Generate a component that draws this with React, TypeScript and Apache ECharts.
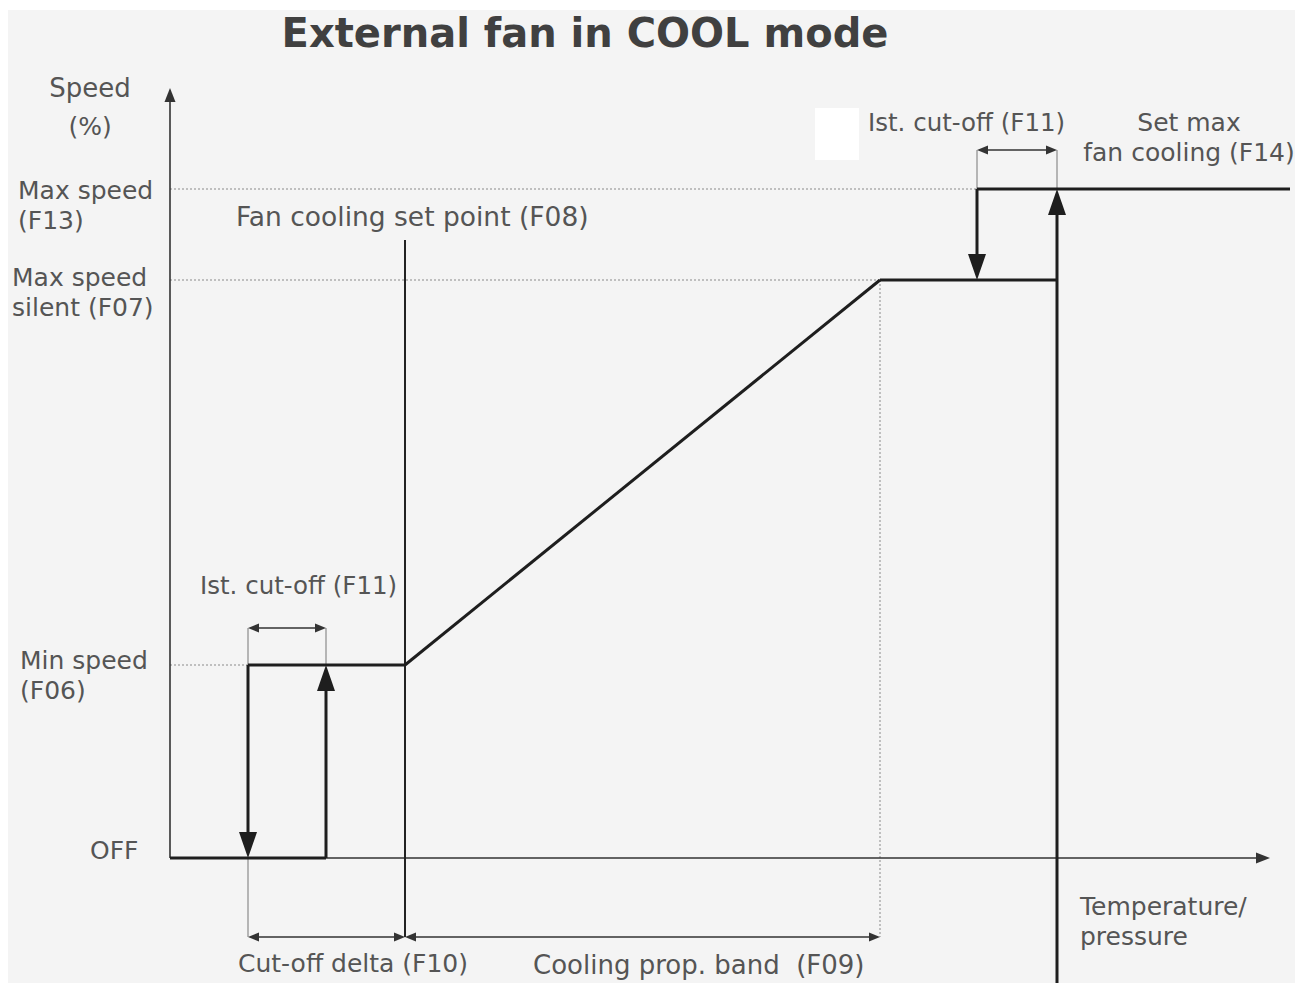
import React, { useEffect, useRef } from "react";
import * as echarts from "echarts";

// Temperature / pressure axis marks (schematic units from the origin)
const tempMarks = [0, 78, 156, 235, 710, 807, 887, 1120];
const tempMarkNames = ["origin", "cut-off low", "cut-off low end", "set point F08", "band end F09", "cut-off high", "set max F14", "end"];
// Speed levels (schematic units)
const speedLevels = [0, 193, 578, 669];
const speedLevelNames = ["OFF", "Min speed (F06)", "Max speed silent (F07)", "Max speed (F13)"];
// axis ranges
const tempRange = [0, 1120];
const speedRange = [-125, 770];
const axisEnds = [1100, 770]; // x-axis arrow tip, y-axis arrow tip
// dimension-line levels: bottom band, low cut-off, high cut-off; set-point line top
const dimLevels = [-79, 230, 708];
const setPointTop = 618;

const [t0, tCutLo, tCutLoEnd, tSet, tBand, tCutHi, tF14, tEnd] = tempMarks;
const [sOff, sMin, sSilent, sMax] = speedLevels;
const [dimBottom, dimLow, dimHigh] = dimLevels;

// segments: [x1, y1, x2, y2, headAtStart, headAtEnd]
const thickSegs = [
  [t0, sOff, tCutLoEnd, sOff, 0, 0],
  [tCutLoEnd, sOff, tCutLoEnd, sMin, 0, 1],
  [tCutLo, sMin, tSet, sMin, 0, 0],
  [tCutLo, sMin, tCutLo, sOff, 0, 1],
  [tSet, sMin, tBand, sSilent, 0, 0],
  [tBand, sSilent, tF14, sSilent, 0, 0],
  [tCutHi, sMax, tCutHi, sSilent, 0, 1],
  [tCutHi, sMax, tEnd, sMax, 0, 0],
  [tF14, speedRange[0], tF14, sMax, 0, 1],
];
const axisSegs = [
  [t0, sOff, axisEnds[0], sOff, 0, 1],
  [t0, sOff, t0, axisEnds[1], 0, 1],
];
const setPointSegs = [[tSet, dimBottom, tSet, setPointTop, 0, 0]];
const dimSegs = [
  [tCutLo, dimLow, tCutLoEnd, dimLow, 1, 1],
  [tCutHi, dimHigh, tF14, dimHigh, 1, 1],
  [tCutLo, dimBottom, tSet, dimBottom, 1, 1],
  [tSet, dimBottom, tBand, dimBottom, 1, 1],
];
const extSegs = [
  [tCutLo, sMin, tCutLo, dimLow, 0, 0],
  [tCutLoEnd, sMin, tCutLoEnd, dimLow, 0, 0],
  [tCutHi, sMax, tCutHi, dimHigh, 0, 0],
  [tF14, sMax, tF14, dimHigh, 0, 0],
  [tCutLo, sOff, tCutLo, dimBottom, 0, 0],
];
const dottedSegs = [
  [t0, sMax, tCutHi, sMax, 0, 0],
  [t0, sSilent, tBand, sSilent, 0, 0],
  [t0, sMin, tCutLo, sMin, 0, 0],
  [tBand, sSilent, tBand, dimBottom, 0, 0],
];

function segSeries(name: string, data: number[][], stroke: string, width: number, headLen: number, headW: number, dash?: number[]) {
  return {
    type: "custom",
    name,
    data,
    encode: { x: [0, 2], y: [1, 3] },
    clip: false,
    silent: true,
    renderItem: (params: any, api: any) => {
      const a = api.coord([api.value(0), api.value(1)]);
      const b = api.coord([api.value(2), api.value(3)]);
      const hs = api.value(4);
      const he = api.value(5);
      const dx = b[0] - a[0];
      const dy = b[1] - a[1];
      const len = Math.sqrt(dx * dx + dy * dy) || 1;
      const ux = dx / len;
      const uy = dy / len;
      const children: any[] = [];
      let s = a.slice();
      let e = b.slice();
      const head = (tip: number[], dirx: number, diry: number) => {
        const bx = tip[0] - dirx * headLen;
        const by = tip[1] - diry * headLen;
        const px = -diry * headW / 2;
        const py = dirx * headW / 2;
        children.push({
          type: "polygon",
          shape: { points: [tip, [bx + px, by + py], [bx - px, by - py]] },
          style: { fill: stroke },
        });
      };
      if (he) {
        head(b, ux, uy);
        e = [b[0] - ux * headLen * 0.8, b[1] - uy * headLen * 0.8];
      }
      if (hs) {
        head(a, -ux, -uy);
        s = [a[0] + ux * headLen * 0.8, a[1] + uy * headLen * 0.8];
      }
      children.unshift({
        type: "line",
        shape: { x1: s[0], y1: s[1], x2: e[0], y2: e[1] },
        style: { stroke, lineWidth: width, lineDash: dash || null },
      });
      return { type: "group", children };
    },
  };
}

const labelColor = "#555";
const font = "DejaVu Sans";

function txt(text: string, x: number, y: number, align = "left", size = 25, lineHeight?: number) {
  return {
    type: "text",
    x,
    y,
    z: 100,
    style: {
      text, fill: labelColor, font: `${size}px "${font}"`, textAlign: align, textVerticalAlign: "middle",
      lineHeight: lineHeight || Math.round(size * 1.2),
    },
  };
}

export default function App() {
  const ref = useRef<HTMLDivElement>(null);
  useEffect(() => {
    if (!ref.current) return;
    const chart = echarts.init(ref.current, undefined, { renderer: "svg" });
    chart.setOption({
      animation: false,
      backgroundColor: "#ffffff",
      grid: { left: 170, right: 17, top: 88, bottom: 0 },
      xAxis: { type: "value", min: tempRange[0], max: tempRange[1], show: false },
      yAxis: { type: "value", min: speedRange[0], max: speedRange[1], show: false },
      graphic: [
        { type: "rect", z: -10, shape: { x: 8, y: 10, width: 1287, height: 973 }, style: { fill: "#f4f4f4" } },
        { type: "rect", z: -9, shape: { x: 815, y: 108, width: 44, height: 52 }, style: { fill: "#ffffff" } },
        {
          type: "text", x: 585, y: 33, z: 100,
          style: { text: "External fan in COOL mode", fill: "#404040", font: `bold 40px "${font}"`, textAlign: "center", textVerticalAlign: "middle" },
        },
        txt("Speed", 90, 88, "center", 26),
        txt("(%)", 90, 126, "center"),
        txt("Max speed\n(F13)", 18, 205, "left", 25, 30),
        txt("Max speed\nsilent (F07)", 12, 292, "left", 25, 30),
        txt("Min speed\n(F06)", 20, 675, "left", 25, 30),
        txt("OFF", 90, 850),
        txt("Fan cooling set point (F08)", 236, 216, "left", 26.5),
        txt("Ist. cut-off (F11)", 200, 585, "left", 24.5),
        txt("Ist. cut-off (F11)", 868, 122, "left", 24.5),
        txt("Set max\nfan cooling (F14)", 1189, 137, "center", 25, 30),
        txt("Temperature/\npressure", 1080, 921.5, "left", 25, 30),
        txt("Cut-off delta (F10)", 238, 963),
        txt("Cooling prop. band  (F09)", 533, 965, "left", 26),
      ],
      series: [
        segSeries("dotted", dottedSegs, "#8a8a8a", 1, 0, 0, [2, 2]),
        segSeries("extension", extSegs, "#8a8a8a", 1.2, 0, 0),
        segSeries("dimension", dimSegs, "#333333", 1.4, 11, 9),
        segSeries("axes", axisSegs, "#333333", 1.6, 14, 11),
        segSeries("set point", setPointSegs, "#222222", 2, 0, 0),
        segSeries("fan speed", thickSegs, "#1e1e1e", 3, 26, 18),
      ],
    });
    return () => chart.dispose();
  }, []);
  return <div ref={ref} style={{ position: "fixed", left: 0, top: 0, width: 1307, height: 983 }} />;
}
